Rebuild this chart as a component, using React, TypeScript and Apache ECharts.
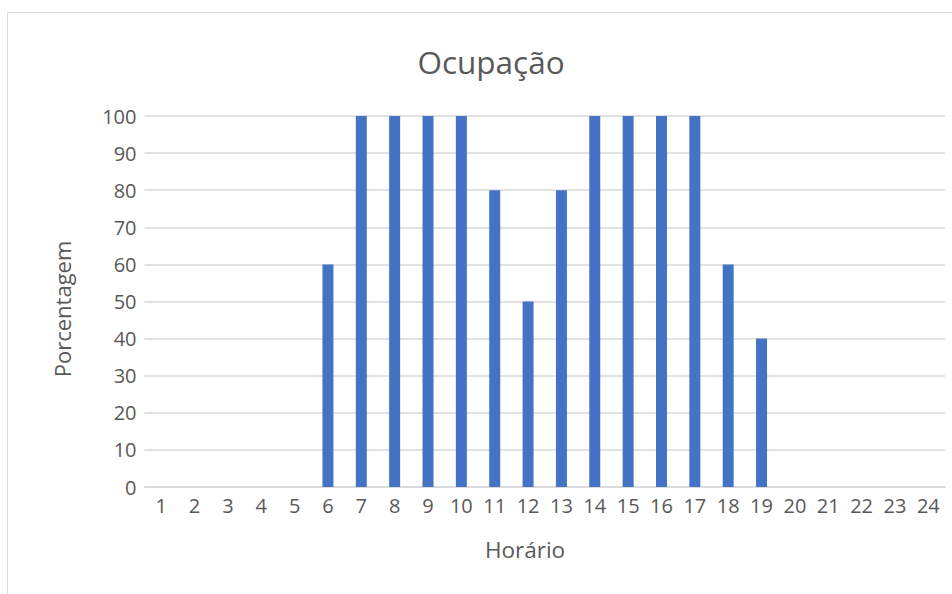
import React, { useEffect, useRef } from "react";
import * as echarts from "echarts";

const categories = ["1","2","3","4","5","6","7","8","9","10","11","12","13","14","15","16","17","18","19","20","21","22","23","24"];
const occupancy = [0,0,0,0,0,60,100,100,100,100,80,50,80,100,100,100,100,60,40,0,0,0,0,0];
const titleText = "Ocupação";
const xName = "Horário";
const yName = "Porcentagem";

export default function App() {
  const ref = useRef<HTMLDivElement>(null);
  useEffect(() => {
    if (!ref.current) return;
    const chart = echarts.init(ref.current, null, { renderer: "svg" });
    const font = "'Open Sans', 'Noto Sans', sans-serif";
    chart.setOption({
      animation: false,
      backgroundColor: "#ffffff",
      graphic: [
        {
          type: "rect",
          shape: { x: 7.5, y: 12.5, width: 1000, height: 700 },
          style: { fill: "none", stroke: "#d9d9d9", lineWidth: 1 },
          silent: true,
        },
        {
          type: "text",
          x: 62,
          y: 309,
          rotation: Math.PI / 2,
          style: {
            text: yName,
            font: `22px ${font}`,
            fill: "#595959",
            align: "center",
            verticalAlign: "middle",
          },
        },
        {
          type: "text",
          x: 525,
          y: 549,
          style: {
            text: xName,
            font: `22.5px ${font}`,
            fill: "#595959",
            align: "center",
            verticalAlign: "middle",
          },
        },
      ],
      title: {
        text: titleText,
        left: 486,
        top: 40,
        textAlign: "center",
        textStyle: { fontFamily: font, fontSize: 31.5, fontWeight: "normal", color: "#595959" },
      },
      grid: { left: 144.5, right: 7, top: 116, bottom: 107, containLabel: false },
      xAxis: {
        type: "category",
        data: categories,
        axisLine: { show: true, lineStyle: { color: "#d9d9d9", width: 1.5 } },
        axisTick: { show: false },
        axisLabel: { fontFamily: font, fontSize: 20, color: "#595959", margin: 8, interval: 0 },
      },
      yAxis: {
        type: "value",
        min: 0,
        max: 100,
        interval: 10,
        axisLine: { show: false },
        axisTick: { show: false },
        axisLabel: { fontFamily: font, fontSize: 20, color: "#595959", margin: 8 },
        splitLine: { lineStyle: { color: "#d9d9d9", width: 1.5 } },
      },
      series: [
        {
          type: "bar",
          data: occupancy,
          barWidth: 11,
          itemStyle: { color: "#4472c4" },
        },
      ],
    });
    return () => chart.dispose();
  }, []);
  return <div ref={ref} style={{ position: "fixed", left: 0, top: 0, width: 952, height: 594 }} />;
}
